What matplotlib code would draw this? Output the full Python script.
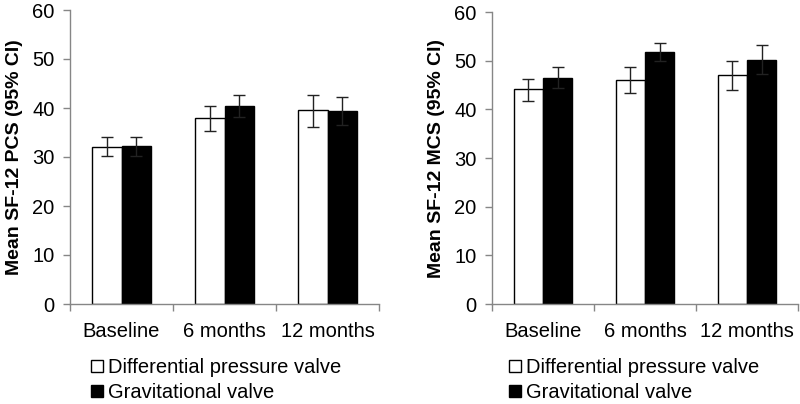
import numpy as np
import matplotlib.pyplot as plt
from matplotlib.patches import Patch

plt.rcParams['font.family'] = ['Liberation Sans', 'DejaVu Sans']

categories = ['Baseline', '6 months', '12 months']
series = ['Differential pressure valve', 'Gravitational valve']

# SF-12 PCS: means and 95% CI bounds
pcs_diff = [32.1, 38.0, 39.5]
pcs_diff_lo = [30.2, 35.3, 36.2]
pcs_diff_hi = [34.1, 40.4, 42.7]
pcs_grav = [32.2, 40.4, 39.4]
pcs_grav_lo = [30.3, 38.1, 36.6]
pcs_grav_hi = [34.1, 42.7, 42.2]

# SF-12 MCS
mcs_diff = [44.1, 46.0, 47.0]
mcs_diff_lo = [41.7, 43.3, 43.9]
mcs_diff_hi = [46.3, 48.6, 50.0]
mcs_grav = [46.5, 51.8, 50.2]
mcs_grav_lo = [44.4, 49.9, 47.2]
mcs_grav_hi = [48.6, 53.7, 53.2]

ylabels = ['Mean SF-12 PCS (95% CI)', 'Mean SF-12 MCS (95% CI)']
fs = 14.5
gray = '#868686'
w = 0.286

fig = plt.figure(figsize=(8, 4.04), dpi=100)
axes = [fig.add_axes([70/800, 1-304/404, 309/800, 294/404]),
        fig.add_axes([492/800, 1-304/404, 306/800, 292/404])]

data = [(pcs_diff, pcs_diff_lo, pcs_diff_hi, pcs_grav, pcs_grav_lo, pcs_grav_hi),
        (mcs_diff, mcs_diff_lo, mcs_diff_hi, mcs_grav, mcs_grav_lo, mcs_grav_hi)]
leg_x = [91/800, 509/800]

x = np.arange(len(categories))
for k, ax in enumerate(axes):
    d, dlo, dhi, g, glo, ghi = data[k]
    d = np.array(d); g = np.array(g)
    derr = [d - np.array(dlo), np.array(dhi) - d]
    gerr = [g - np.array(glo), np.array(ghi) - g]
    ax.bar(x - w/2, d, w, color='white', edgecolor='black', linewidth=1, zorder=2)
    ax.bar(x + w/2, g, w, color='black', edgecolor='black', linewidth=1, zorder=2)
    ax.errorbar(x - w/2, d, yerr=derr, fmt='none', ecolor='#222222', elinewidth=1,
                capsize=4, capthick=1, zorder=3)
    ax.errorbar(x + w/2, g, yerr=gerr, fmt='none', ecolor='#222222', elinewidth=1,
                capsize=4, capthick=1, zorder=3)

    ax.set_xlim(-0.5, 2.5)
    ax.set_ylim(0, 60)
    ax.set_yticks(range(0, 61, 10))
    ax.set_xticks(x)
    ax.set_xticklabels(categories, fontsize=fs)
    ax.set_xticks([-0.5, 0.5, 1.5, 2.5], minor=True)
    ax.tick_params(axis='x', which='major', length=0, pad=13)
    ax.tick_params(axis='x', which='minor', length=5, color=gray, width=1)
    ax.tick_params(axis='y', length=5, color=gray, width=1, labelsize=fs, pad=6)
    for s in ['top', 'right']:
        ax.spines[s].set_visible(False)
    for s in ['left', 'bottom']:
        ax.spines[s].set_color(gray)
        ax.spines[s].set_linewidth(1)
    ax.set_ylabel(ylabels[k], fontsize=14, fontweight='bold', labelpad=7)

    handles = [Patch(facecolor='white', edgecolor='black', linewidth=1),
               Patch(facecolor='black', edgecolor='black', linewidth=1)]
    fig.legend(handles, series, loc='upper left', bbox_to_anchor=(leg_x[k], 1-358/404),
               frameon=False, fontsize=fs, handlelength=0.6, handleheight=0.6,
               handletextpad=0.25, labelspacing=0.3, borderpad=0, borderaxespad=0)

fig.savefig('out.png', dpi=100)
